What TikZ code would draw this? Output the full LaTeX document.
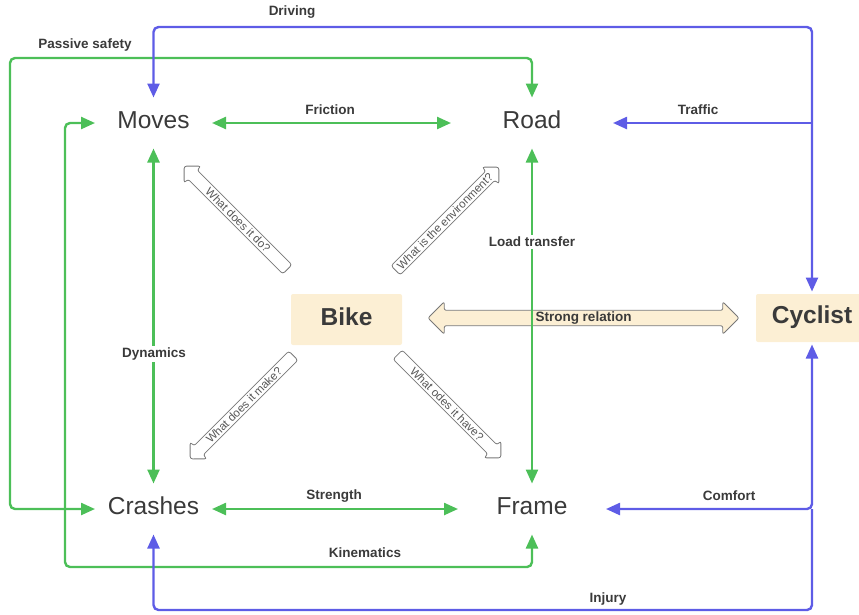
\documentclass[tikz,border=0pt]{standalone}
\usepackage{fontspec}
\setmainfont{Liberation Sans}
\usetikzlibrary{arrows.meta,shapes.arrows}
\definecolor{lgreen}{RGB}{76,191,88}
\definecolor{lblue}{RGB}{94,92,230}
\definecolor{beige}{RGB}{252,239,212}
\definecolor{txt}{RGB}{58,58,58}
\definecolor{outl}{RGB}{120,120,120}
\begin{document}
\begin{tikzpicture}[x=1pt,y=-1pt,
    topic/.style={text=txt,font=\fontsize{24.5}{28}\selectfont,text depth=6pt,
      minimum height=51pt,inner sep=0pt,outer sep=0pt},
    party/.style={topic,font=\fontsize{24.5}{28}\selectfont\bfseries,fill=beige,rounded corners=2pt},
    lbl/.style={text=txt,font=\fontsize{13.5}{16}\selectfont\bfseries,inner sep=1pt},
    ask/.style={single arrow,draw=outl,fill=white,line width=0.8pt,rounded corners=2.5pt,
      single arrow head extend=5.5pt,minimum height=146pt,inner xsep=1pt,inner ysep=1.8pt,
      text=txt!85,font=\fontsize{11.5}{13}\selectfont},
    link/.style={line width=2.4pt,rounded corners=5pt,>={Triangle[length=14pt,width=12pt]}}]
  \useasboundingbox (0,0) rectangle (859,614);
  \path
    (153.5,123) node[topic,minimum width=117pt] (moves){Moves}
    (532,123) node[topic,minimum width=162pt] (road){Road}
    (153.5,509) node[topic,minimum width=117pt] (crashes){Crashes}
    (532,509) node[topic,minimum width=148pt] (frame){Frame}
    (346.5,319.5) node[party,minimum width=111pt] (bike){Bike}
    (812,318) node[party,minimum width=112pt,minimum height=48pt,outer sep=2.5pt] (cyclist){Cyclist};
  \node[ask,rotate=-45,shape border rotate=180] (doq) at (238,220) {What does it do?};
  \node[ask,rotate=45] (envq) at (445,221) {What is the environment?};
  \node[ask,rotate=45,shape border rotate=180] (makeq) at (244,405) {What does it make?};
  \node[ask,rotate=-45] (haveq) at (447,404) {What odes it have?};
  \node[double arrow,fill=beige,draw=outl,line width=0.8pt,rounded corners=2pt,
    minimum height=311pt,double arrow head extend=8.5pt,inner ysep=6.5pt,inner xsep=0pt,
    lbl] (strong) at (583.5,318) {Strong relation};
  \coordinate (safe) at (10,58);
  \coordinate (kin) at (65,567);
  \coordinate (drive) at (812,27);
  \coordinate (hurt) at (812,610);
  \begin{scope}[link,color=lgreen]
    \draw[<->] (moves) -- (road);
    \draw[<->] (moves) -- (crashes);
    \draw[<->] (road) -- (frame);
    \draw[<->] (crashes) -- (frame);
    \draw[<->] (crashes.west) -| (safe) -| (road.north);
    \draw[<->] (moves.west) -| (kin) -| (frame.south);
  \end{scope}
  \begin{scope}[link,color=lblue]
    \draw[<->] (cyclist.north) -- (drive) -| (moves.north);
    \draw[->] (cyclist.north |- road.east) -- (road.east);
    \draw[<->] (cyclist.south) |- (frame.east);
    \draw[->] (cyclist.south |- frame.east) -- (hurt) -| (crashes.south);
  \end{scope}
  \path
    (85,45) node[lbl] (lsafe){Passive safety}
    (292,12) node[lbl] (ldrive){Driving}
    (330,110) node[lbl] (lfric){Friction}
    (698,110) node[lbl] (ltraf){Traffic}
    (532,242) node[lbl,fill=white,inner sep=2pt] (lload){Load transfer}
    (154,354) node[lbl,fill=white,inner sep=2pt] (ldyn){Dynamics}
    (334,496) node[lbl] (lstr){Strength}
    (729,496) node[lbl] (lcomf){Comfort}
    (365,553) node[lbl] (lkin){Kinematics}
    (608,599) node[lbl] (linj){Injury};
\end{tikzpicture}
\end{document}
